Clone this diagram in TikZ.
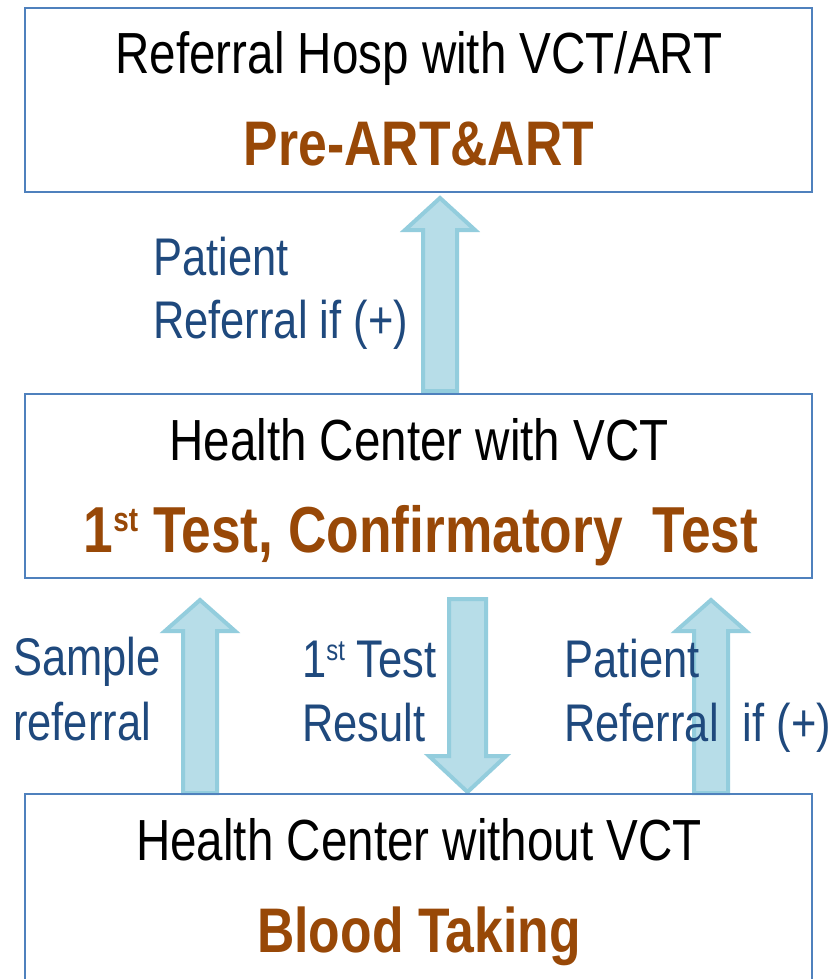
\documentclass[tikz,border=0pt]{standalone}
\usepackage{fontspec}
\setmainfont{Liberation Sans}[FakeStretch=0.82]
\definecolor{boxblue}{HTML}{4F81BD}
\definecolor{brownc}{HTML}{984807}
\definecolor{textblue}{HTML}{1F497D}
\definecolor{arrfill}{HTML}{B7DDE8}
\definecolor{arrline}{HTML}{93CDDD}
\newcommand\myst[1]{\raisebox{0.32em}{\fontsize{#1}{#1}\selectfont st}}
\begin{document}
\begin{tikzpicture}[x=1pt,y=-1pt,
  box/.style={draw=boxblue, line width=1.8pt, fill=none, minimum width=787pt, anchor=north west, inner sep=0},
  blk/.style={draw=arrline, fill=arrfill, line width=4pt, line join=miter},
  head/.style={anchor=base, font=\fontsize{58}{60}\selectfont, inner sep=0},
  sub/.style={anchor=base, font=\fontsize{63}{65}\selectfont\bfseries, text=brownc, inner sep=0},
  lbl/.style={anchor=base west, font=\fontsize{53}{55}\selectfont, text=textblue, inner sep=0}]
\useasboundingbox (0,0) rectangle (831,979);
\clip (0,0) rectangle (831,979);
\fill[white] (0,0) rectangle (831,979);

% block arrows
\draw[blk] (423,391) -- (423,230) -- (405,230) -- (440,198) -- (475,230) -- (457,230) -- (457,391) -- cycle;
\draw[blk] (183,793) -- (183,631) -- (165,631) -- (200,600) -- (235,631) -- (217,631) -- (217,793) -- cycle;
\draw[blk] (694,793) -- (694,631) -- (676,631) -- (711,600) -- (746,631) -- (728,631) -- (728,793) -- cycle;
\draw[blk] (449,599) -- (486,599) -- (486,756) -- (506,756) -- (467.5,792) -- (429,756) -- (449,756) -- cycle;

% boxes
\node[box, minimum height=184pt] (top) at (24,7) {};
\node[box, minimum height=184pt] (mid) at (24,393) {};
\node[box, minimum height=200pt] (bot) at (24,793) {};

% box texts
\node[head] (t1) at (419,74) {Referral Hosp with VCT/ART};
\node[sub] (t2) at (419,165) {Pre-ART\&ART};
\node[head] (m1) at (419,460) {Health Center with VCT};
\node[sub, font=\fontsize{65}{67}\selectfont\bfseries] (m2) at (421,552) {1\myst{34} Test, Confirmatory\ \ Test};
\node[head] (b1) at (419,860) {Health Center without VCT};
\node[sub] (b2) at (419,952) {Blood Taking};

% labels
\node[lbl] (la1) at (153,275) {Patient};
\node[lbl] (la2) at (153,338) {Referral if (+)};
\node[lbl] (lb1) at (13,675) {Sample};
\node[lbl] (lb2) at (13,740) {referral};
\node[lbl] (lc1) at (302,677) {1\myst{29} Test};
\node[lbl] (lc2) at (302,741) {Result};
\node[lbl] (ld1) at (564,677) {Patient};
\node[lbl] (ld2) at (564,741) {Referral\ \ if (+)};
\end{tikzpicture}
\end{document}
